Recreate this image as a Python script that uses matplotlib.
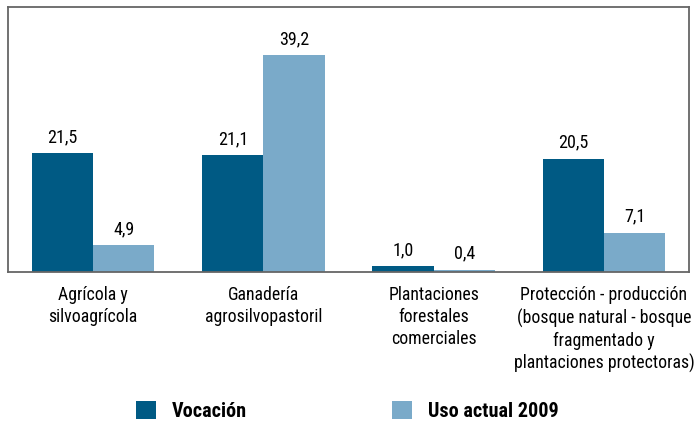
import matplotlib.pyplot as plt
import numpy as np

categories = [
    "Agrícola y\nsilvoagrícola",
    "Ganadería\nagrosilvopastoril",
    "Plantaciones\nforestales\ncomerciales",
    "Protección - producción\n(bosque natural - bosque\nfragmentado y\nplantaciones protectoras)",
]
vocacion = [21.5, 21.1, 1.0, 20.5]
uso_actual = [4.9, 39.2, 0.4, 7.1]
series_names = ["Vocación", "Uso actual 2009"]

DARK = "#005a84"
LIGHT = "#7aaac9"
FRAME = "#666666"

plt.rcParams["font.family"] = ["Roboto Condensed", "DejaVu Sans"]

fig = plt.figure(figsize=(6.95, 4.22), dpi=100)
ax = fig.add_axes([0.0115, 0.3555, 0.98, 0.628])

x = np.arange(len(categories))
width = 0.36
b1 = ax.bar(x - width / 2, vocacion, width, color=DARK, label=series_names[0])
b2 = ax.bar(x + width / 2, uso_actual, width, color=LIGHT, label=series_names[1])

# values with decimal comma
for bars, vals in ((b1, vocacion), (b2, uso_actual)):
    ax.bar_label(bars, labels=[f"{v:.1f}".replace(".", ",") for v in vals],
                 padding=5, fontsize=13)

ax.set_xlim(-0.5, len(categories) - 0.5)
ax.set_ylim(0, 47.9)
ax.set_yticks([])
ax.set_xticks(x, categories, fontsize=12.8, linespacing=1.3)
ax.tick_params(axis="x", length=0, pad=10)

for sp in ax.spines.values():
    sp.set_color(FRAME)
    sp.set_linewidth(1.3)

fig.legend(handles=[b1, b2], loc="center", bbox_to_anchor=(0.5, 0.026),
           ncol=2, frameon=False, prop={"weight": "bold", "size": 14.5},
           handlelength=1.0, handleheight=1.0, handletextpad=0.8,
           columnspacing=7.2)

fig.savefig("out.png", dpi=100)
